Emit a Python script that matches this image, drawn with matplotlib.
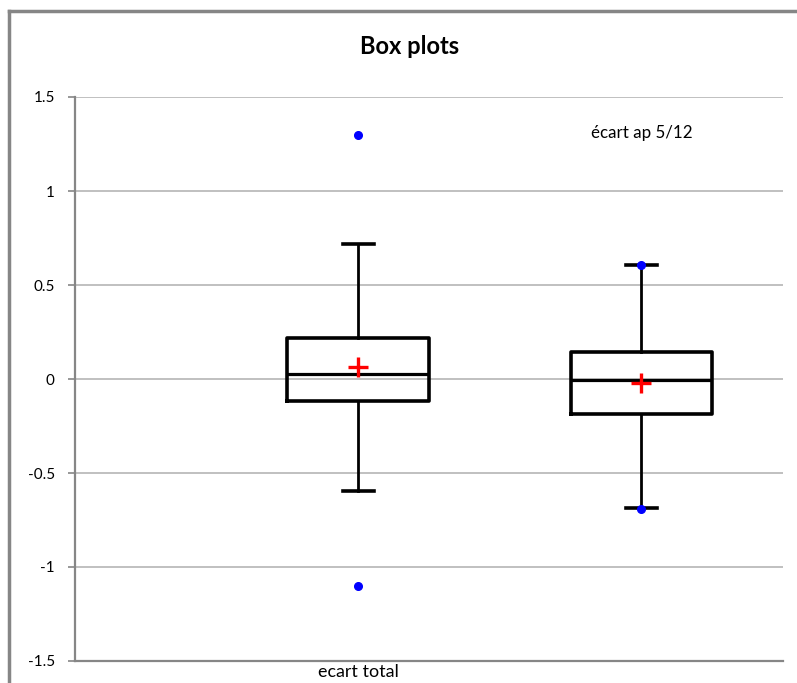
import matplotlib.pyplot as plt
from matplotlib.lines import Line2D

# series names
series = ["ecart total", "écart ap 5/12"]
positions = [1, 2]

# box statistics
q1 = [-0.117, -0.186]
medians = [0.028, -0.007]
q3 = [0.220, 0.144]
means = [0.064, -0.020]
whis_low = [-0.596, -0.688]
whis_high = [0.716, 0.606]
# min / max points shown in blue
mins = [-1.10, -0.69]
maxs = [1.30, 0.606]

yticks = [-1.5, -1, -0.5, 0, 0.5, 1, 1.5]
ytick_labels = ["-1.5", "-1", "-0.5", "0", "0.5", "1", "1.5"]

plt.rcParams['font.family'] = ['Lato', 'DejaVu Sans']

fig = plt.figure(figsize=(7.97, 6.83), dpi=100)
ax = fig.add_axes([75 / 797, 1 - 661 / 683, (783 - 75) / 797, (661 - 97) / 683])

stats = []
for i in range(len(series)):
    stats.append({
        'label': series[i],
        'q1': q1[i], 'med': medians[i], 'q3': q3[i], 'mean': means[i],
        'whislo': whis_low[i], 'whishi': whis_high[i], 'fliers': [],
    })

ax.bxp(stats, positions=positions, widths=0.5, showmeans=True, showfliers=False,
       boxprops=dict(color='black', linewidth=2.6),
       medianprops=dict(color='black', linewidth=2.3),
       whiskerprops=dict(color='black', linewidth=2.0),
       capprops=dict(color='black', linewidth=2.6),
       capwidths=0.11,
       meanprops=dict(marker='+', markeredgecolor='red', markersize=15, markeredgewidth=2.4))

# min / max points
ax.plot(positions, mins, 'o', color='blue', markersize=5.5, zorder=5)
ax.plot(positions, maxs, 'o', color='blue', markersize=5.5, zorder=5)

ax.set_xlim(0.0, 2.5)
ax.set_ylim(-1.5, 1.5)
ax.set_yticks(yticks)
ax.set_yticklabels(ytick_labels, fontsize=11)
ax.set_xticks([positions[0]])
ax.set_xticklabels([series[0]], fontsize=12.9)
ax.tick_params(axis='x', length=0, pad=2)
ax.tick_params(axis='y', length=5, width=1.2, color='#868686', pad=9.5)

ax.grid(axis='y', color='#c0c0c0', linewidth=1.4)
ax.set_axisbelow(True)
for s in ['top', 'right']:
    ax.spines[s].set_visible(False)
for s in ['left', 'bottom']:
    ax.spines[s].set_color('#868686')
    ax.spines[s].set_linewidth(1.6)

# label for second series inside the plot
ax.text(positions[1], 1.31, series[1], ha='center', va='center', fontsize=12.2)

fig.text(410 / 797, 1 - 47 / 683, "Box plots", ha='center', va='center',
         fontsize=17, fontweight='bold')

# chart frame (cropped at right and bottom)
fig.add_artist(Line2D([9 / 797, 9 / 797], [0, 1 - 11 / 683], transform=fig.transFigure,
                      color='#868686', linewidth=2.5))
fig.add_artist(Line2D([9 / 797, 1], [1 - 11 / 683, 1 - 11 / 683], transform=fig.transFigure,
                      color='#868686', linewidth=2.5))

fig.savefig("out.png", dpi=100)
